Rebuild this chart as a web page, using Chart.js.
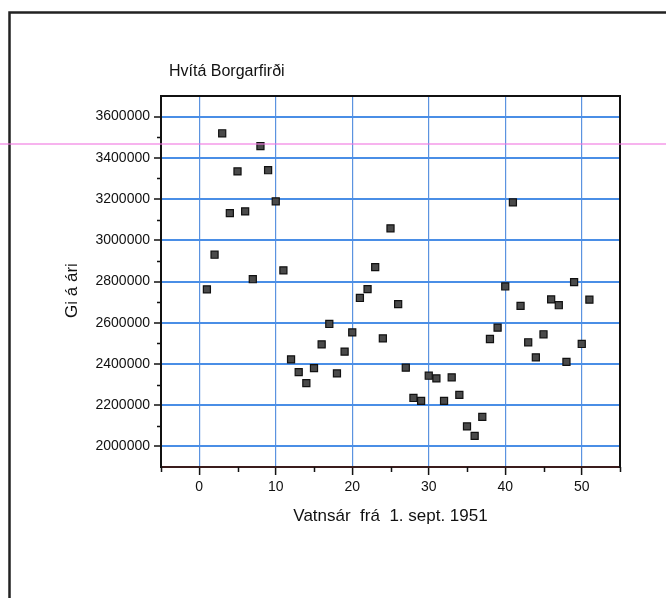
<!DOCTYPE html>
<html>
<head>
<meta charset="utf-8">
<title>Hvítá Borgarfirði</title>
<script src="https://cdn.jsdelivr.net/npm/chart.js@4.4.1/dist/chart.umd.min.js"></script>
<style>
  html, body { margin: 0; padding: 0; background: #fff; }
  #wrap { position: relative; width: 666px; height: 598px; }
</style>
</head>
<body>
<div id="wrap"><canvas id="chart"></canvas></div>
<script>
// Vatnsár (years from 1 Sept 1951) and yearly flow
const years = [
  1, 2, 3, 4, 5, 6, 7, 8, 9, 10,
  11, 12, 13, 14, 15, 16, 17, 18, 19, 20,
  21, 22, 23, 24, 25, 26, 27, 28, 29, 30,
  31, 32, 33, 34, 35, 36, 37, 38, 39, 40,
  41, 42, 43, 44, 45, 46, 47, 48, 49, 50, 51
];
const flow = [
  2762000, 2930000, 3519000, 3132000, 3334000, 3140000, 2811000, 3457000, 3340000, 3189000,
  2854000, 2422000, 2360000, 2307000, 2380000, 2495000, 2594000, 2354000, 2460000, 2553000,
  2720000, 2763000, 2870000, 2524000, 3058000, 2690000, 2382000, 2235000, 2221000, 2343000,
  2330000, 2221000, 2335000, 2250000, 2097000, 2051000, 2143000, 2521000, 2576000, 2776000,
  3184000, 2682000, 2505000, 2432000, 2544000, 2713000, 2685000, 2410000, 2797000, 2497000, 2712000
];

const xTicks = [0, 10, 20, 30, 40, 50];
const xMinorTicks = [-5, 5, 15, 25, 35, 45, 55];
const yTicks = [2000000, 2200000, 2400000, 2600000, 2800000, 3000000, 3200000, 3400000, 3600000];
const yMinorTicks = [2100000, 2300000, 2500000, 2700000, 2900000, 3100000, 3300000, 3500000];

const chartTitle = 'Hvítá Borgarfirði';
const yTitle = 'Gi á ári';
const xTitle = 'Vatnsár  frá  1. sept. 1951';

const FONT = "'Liberation Sans', Arial, Helvetica, sans-serif";

// box round the plot, minor ticks, titles, page frame and the scanner's pink streak
const framePlugin = {
  id: 'frame',
  afterDraw(chart) {
    const ctx = chart.ctx;
    const { left, right, top, bottom } = chart.chartArea;
    const xs = chart.scales.x;
    const ys = chart.scales.y;
    ctx.save();

    ctx.strokeStyle = '#111';
    ctx.lineWidth = 2;
    ctx.beginPath();
    ctx.moveTo(left, top);
    ctx.lineTo(right, top);
    ctx.lineTo(right, bottom + 1);
    ctx.stroke();

    ctx.lineWidth = 1.5;
    ctx.beginPath();
    xMinorTicks.forEach(v => {
      const px = Math.round(xs.getPixelForValue(v)) + 0.5;
      ctx.moveTo(px, bottom);
      ctx.lineTo(px, bottom + 5);
    });
    yMinorTicks.forEach(v => {
      const py = Math.round(ys.getPixelForValue(v)) + 0.5;
      ctx.moveTo(left - 4, py);
      ctx.lineTo(left, py);
    });
    ctx.stroke();

    // titles
    ctx.fillStyle = '#111';
    ctx.font = '16px ' + FONT;
    ctx.textAlign = 'left';
    ctx.textBaseline = 'alphabetic';
    ctx.fillText(chartTitle, left + 8, top - 20);

    ctx.save();
    ctx.translate(left - 89, (top + bottom) / 2 + 9);
    ctx.rotate(-Math.PI / 2);
    ctx.font = '17px ' + FONT;
    ctx.textAlign = 'center';
    ctx.textBaseline = 'middle';
    ctx.fillText(yTitle, 0, 0);
    ctx.restore();

    // page frame
    ctx.strokeStyle = '#222';
    ctx.lineWidth = 2.5;
    ctx.beginPath();
    ctx.moveTo(9.5, 598);
    ctx.lineTo(9.5, 12.5);
    ctx.lineTo(666, 12.5);
    ctx.stroke();

    ctx.strokeStyle = 'rgba(240, 120, 225, 0.75)';
    ctx.lineWidth = 1.5;
    ctx.beginPath();
    ctx.moveTo(0, 144);
    ctx.lineTo(666, 144);
    ctx.stroke();

    ctx.restore();
  }
};

new Chart(document.getElementById('chart'), {
  type: 'scatter',
  plugins: [framePlugin],
  data: {
    datasets: [{
      label: yTitle,
      data: years.map((x, i) => ({ x: x, y: flow[i] })),
      pointStyle: 'rect',
      pointRadius: 5,
      pointHoverRadius: 5,
      backgroundColor: '#4a4a4a',
      borderColor: '#111',
      borderWidth: 1.2
    }]
  },
  options: {
    responsive: true,
    maintainAspectRatio: false,
    animation: false,
    layout: { padding: { left: 0, right: 46, top: 96, bottom: 0 } },
    plugins: {
      legend: { display: false },
      tooltip: { enabled: false },
      title: { display: false }
    },
    scales: {
      x: {
        type: 'linear',
        min: -5,
        max: 55,
        afterBuildTicks: axis => { axis.ticks = xTicks.map(v => ({ value: v })); },
        afterFit: axis => { axis.height = 131; },
        grid: {
          color: '#5b93e0',
          lineWidth: 1.2,
          tickColor: '#111',
          tickLength: 8,
          tickWidth: 1.5
        },
        border: { display: true, color: '#3a1c1c', width: 2 },
        ticks: {
          color: '#111',
          padding: 4,
          maxRotation: 0,
          font: { family: FONT, size: 14 },
          callback: v => String(v)
        },
        title: {
          display: true,
          text: xTitle,
          color: '#111',
          font: { family: FONT, size: 17 },
          padding: { top: 0, bottom: 71 }
        }
      },
      y: {
        type: 'linear',
        min: 1900000,
        max: 3700000,
        afterBuildTicks: axis => { axis.ticks = yTicks.map(v => ({ value: v })); },
        afterFit: axis => { axis.width = 161; },
        grid: {
          color: '#4a8ee6',
          lineWidth: 2,
          tickColor: '#111',
          tickLength: 7,
          tickWidth: 1.5
        },
        border: { display: true, color: '#111', width: 2 },
        ticks: {
          color: '#111',
          padding: 4,
          font: { family: FONT, size: 14 },
          callback: v => String(v)
        }
      }
    }
  }
});
</script>
</body>
</html>
